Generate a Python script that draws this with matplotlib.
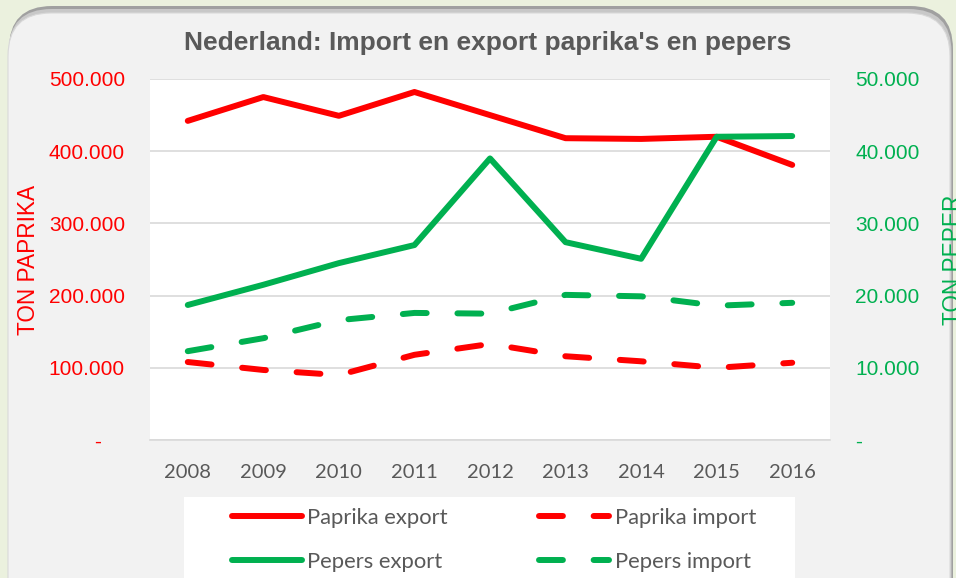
import matplotlib.pyplot as plt
from matplotlib.patches import FancyBboxPatch, Rectangle
from matplotlib.ticker import FuncFormatter, MultipleLocator

years = ["2008", "2009", "2010", "2011", "2012", "2013", "2014", "2015", "2016"]
paprika_export = [442000, 475000, 449000, 482000, 450000, 418000, 417000, 420000, 381000]
paprika_import = [108000, 97000, 90000, 118000, 133000, 116000, 109000, 100000, 107000]
pepers_export = [18700, 21500, 24500, 27000, 39000, 27400, 25100, 42000, 42100]
pepers_import = [12300, 14100, 16600, 17600, 17500, 20100, 19900, 18600, 19000]

RED = "#FF0000"
GREEN = "#00B050"
GREY = "#595959"
W, H = 956, 578

fig = plt.figure(figsize=(W / 100, H / 100), dpi=100)
fig.patch.set_facecolor("#EBF1DE")

# panel with a soft shadow along the top
fig.patches.append(FancyBboxPatch((9 / W, -0.1), 944 / W, 1.1 - 6 / H,
                                  boxstyle="round,pad=0,rounding_size=0.045",
                                  transform=fig.transFigure, facecolor="#A0A0A0",
                                  edgecolor="none", mutation_aspect=W / H, zorder=-6))
fig.patches.append(FancyBboxPatch((8.5 / W, -0.1), 943 / W, 1.1 - 9 / H,
                                  boxstyle="round,pad=0,rounding_size=0.045",
                                  transform=fig.transFigure, facecolor="#C8C8C8",
                                  edgecolor="none", mutation_aspect=W / H, zorder=-5))
fig.patches.append(FancyBboxPatch((8 / W, -0.1), 942 / W, 1.1 - 13 / H,
                                  boxstyle="round,pad=0,rounding_size=0.045",
                                  transform=fig.transFigure, facecolor="#F2F2F2",
                                  edgecolor="#D9D9D9", lw=0.8, mutation_aspect=W / H,
                                  zorder=-4))
# legend background
fig.patches.append(Rectangle((184 / W, 0), 611 / W, 81 / H, transform=fig.transFigure,
                             facecolor="white", edgecolor="none", zorder=-3))

ax = fig.add_axes([150 / W, 138 / H, 680 / W, 361 / H])
ax2 = ax.twinx()
ax.set_facecolor("white")
ax2.patch.set_visible(False)

x = range(len(years))
lw = 4.3
dash = (0, (4, 5.15))
l1, = ax.plot(x, paprika_export, color=RED, lw=lw, solid_capstyle="round",
              solid_joinstyle="round", label="Paprika export")
l2, = ax.plot(x, paprika_import, color=RED, lw=lw, ls=dash, dash_capstyle="round",
              label="Paprika import")
l3, = ax2.plot(x, pepers_export, color=GREEN, lw=lw, solid_capstyle="round",
               solid_joinstyle="round", label="Pepers export")
l4, = ax2.plot(x, pepers_import, color=GREEN, lw=lw, ls=dash, dash_capstyle="round",
               label="Pepers import")

ax.set_xlim(-0.5, len(years) - 0.5)
ax.set_ylim(0, 500000)
ax2.set_ylim(0, 50000)
ax.yaxis.set_major_locator(MultipleLocator(100000))
ax2.yaxis.set_major_locator(MultipleLocator(10000))


def fmt_left(v, pos):
    if v == 0:
        return "-    "
    return f"{int(v):,}".replace(",", ".")


def fmt_right(v, pos):
    if v == 0:
        return "-"
    return f"{int(v):,}".replace(",", ".")


ax.yaxis.set_major_formatter(FuncFormatter(fmt_left))
ax2.yaxis.set_major_formatter(FuncFormatter(fmt_right))
ax.grid(axis="y", color="#D9D9D9", lw=1.2)
ax.set_axisbelow(True)
for a in (ax, ax2):
    for s in a.spines.values():
        s.set_visible(False)
ax.spines["bottom"].set_visible(True)
ax.spines["bottom"].set_color("#D9D9D9")
ax.spines["bottom"].set_linewidth(1.2)

ax.set_xticks(list(x))
ax.set_xticklabels(years)
ax.tick_params(axis="x", length=0, pad=17, labelsize=14.5, labelcolor=GREY)
for t in ax.get_xticklabels():
    t.set_fontfamily("Lato")
ax.tick_params(axis="y", length=0, pad=18, labelsize=15, labelcolor=RED)
ax2.tick_params(axis="y", length=0, pad=18, labelsize=15, labelcolor=GREEN)
for t in ax.get_yticklabels() + ax2.get_yticklabels():
    t.set_fontfamily("Liberation Sans")

fig.text(488 / W, 1 - 43 / H, "Nederland: Import en export paprika's en pepers",
         ha="center", va="center", fontsize=19, fontweight="bold", color=GREY,
         family="Liberation Sans")
fig.text(29 / W, 1 - 260 / H, "TON PAPRIKA", rotation=90, ha="center", va="center",
         fontsize=16.3, color=RED, family="Liberation Sans")
fig.text(953 / W, 1 - 260 / H, "TON PEPER", rotation=90, ha="center", va="center",
         fontsize=16.3, color=GREEN, family="Liberation Sans")

fig.legend([l1, l3, l2, l4], [l.get_label() for l in (l1, l3, l2, l4)],
           loc="center", bbox_to_anchor=(494 / W, 1 - 540 / H), ncol=2,
           frameon=False, handlelength=3.2, handletextpad=0.25, columnspacing=4.15,
           labelspacing=1.1, prop={"family": "Lato", "size": 15.8},
           labelcolor=GREY)

fig.savefig("out.png", dpi=100, facecolor=fig.get_facecolor())
